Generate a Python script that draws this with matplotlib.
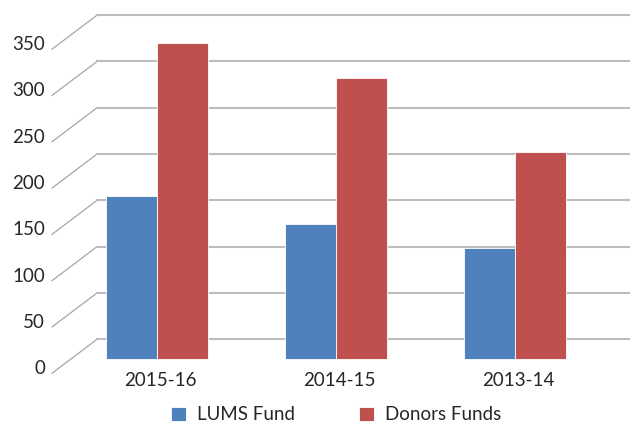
import matplotlib.pyplot as plt
import numpy as np

years = ["2015-16", "2014-15", "2013-14"]
lums_fund = [176, 146, 120]
donors_funds = [341, 303, 224]
ticks = [0, 50, 100, 150, 200, 250, 300, 350]

plt.rcParams['font.family'] = ['Lato', 'DejaVu Sans']

W, H = 630, 424
fig = plt.figure(figsize=(W / 100, H / 100), dpi=100)
ax = fig.add_axes([0, 0, 1, 1])

# pixel -> data mapping (group centres every 179 px, 0.926 px per unit)
px_x0, px_step = 157, 179
py_base, py_unit = 359, 0.926
ax.set_xlim((0 - px_x0) / px_step, (W - px_x0) / px_step)
ax.set_ylim((py_base - H) / py_unit, py_base / py_unit)
ax.axis("off")

x = np.arange(len(years))
bw = 51 / px_step

# perspective gridlines: front edge -> back wall -> right edge
x_front = (52 - px_x0) / px_step
x_back = (97 - px_x0) / px_step
x_right = (629 - px_x0) / px_step
front_off = -15.4
back_off = 21.3
for v in ticks:
    ax.plot([x_front, x_back], [v + front_off, v + back_off], color="#a6a6a6", lw=0.9, zorder=1)
    ax.plot([x_back, x_right], [v + back_off, v + back_off], color="#bdbdbd", lw=1.5, zorder=1)
    ax.text((45 - px_x0) / px_step, v + front_off + 5, str(v), ha="right", va="center",
            fontsize=13.5, color="#262626")

ax.bar(x - bw / 2, lums_fund, bw, color="#4f81bd", edgecolor="white", lw=0.6,
       label="LUMS Fund", zorder=3)
ax.bar(x + bw / 2, donors_funds, bw, color="#c0504d", edgecolor="white", lw=0.6,
       label="Donors Funds", zorder=3)

for i, yr in enumerate(years):
    ax.text(i + 0.02, (py_base - 380) / py_unit, yr, ha="center", va="center",
            fontsize=13.5, color="#262626")

leg = ax.legend(loc="center", bbox_to_anchor=(336 / W, 1 - 415 / H), ncol=2,
                frameon=False, fontsize=13.5, handlelength=0.8, handleheight=0.8,
                columnspacing=3.4, handletextpad=0.6)
for t in leg.get_texts():
    t.set_color("#262626")

fig.savefig("out.png", dpi=100)
